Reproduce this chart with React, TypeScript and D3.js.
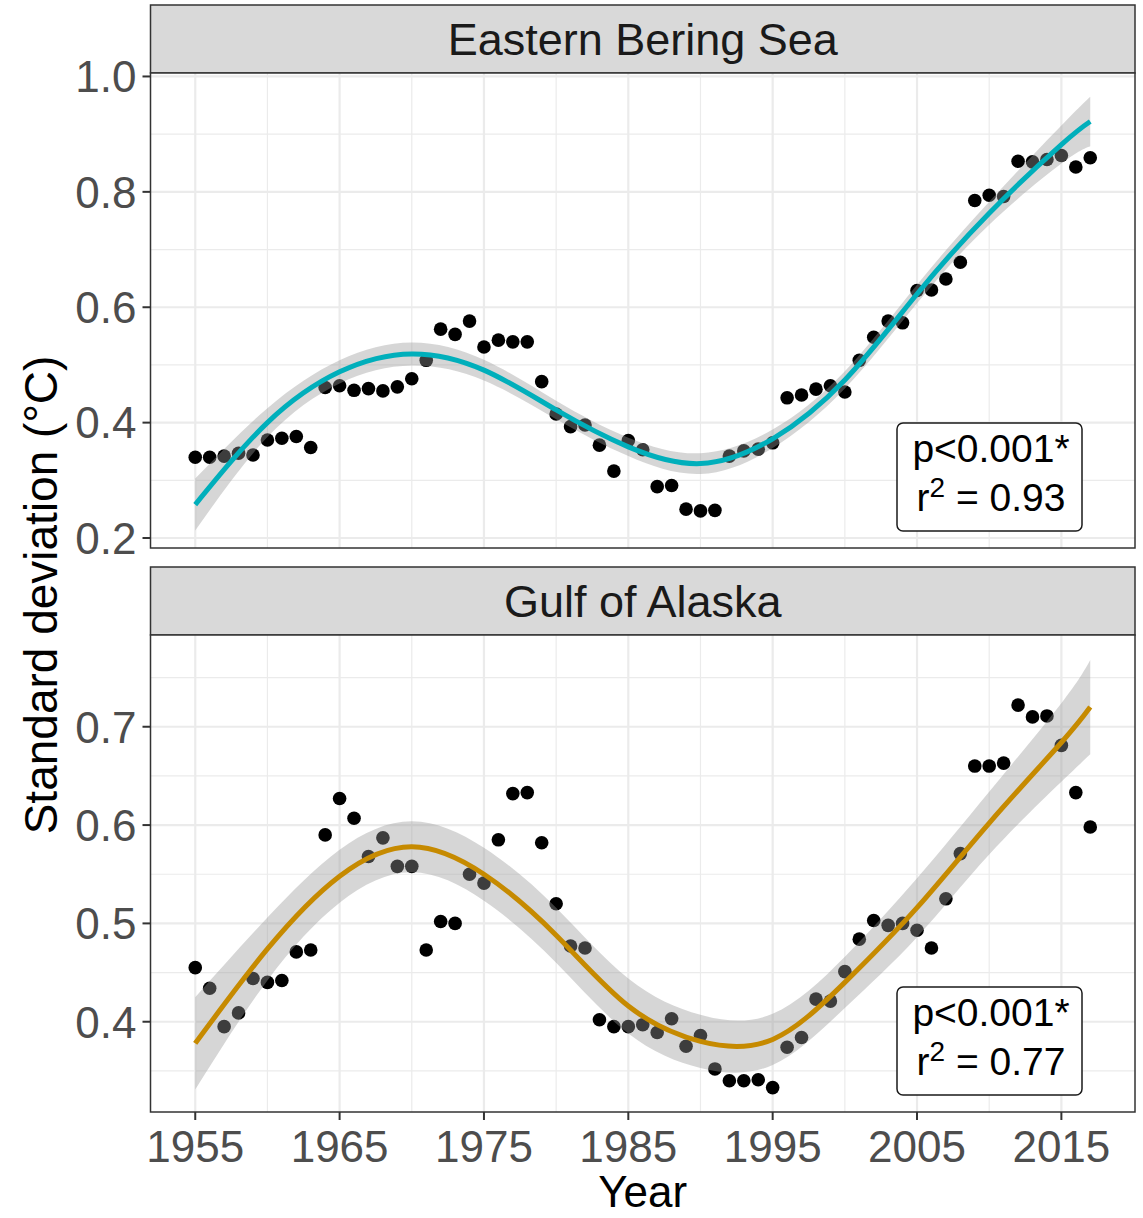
import React from "react";
import * as d3 from "d3";

// ---------- data ----------
const years = [
  1955, 1956, 1957, 1958, 1959, 1960, 1961, 1962, 1963, 1964, 1965, 1966, 1967, 1968, 1969,
  1970, 1971, 1972, 1973, 1974, 1975, 1976, 1977, 1978, 1979, 1980, 1981, 1982, 1983, 1984,
  1985, 1986, 1987, 1988, 1989, 1990, 1991, 1992, 1993, 1994, 1995, 1996, 1997, 1998, 1999,
  2000, 2001, 2002, 2003, 2004, 2005, 2006, 2007, 2008, 2009, 2010, 2011, 2012, 2013, 2014,
  2015, 2016, 2017,
];

const eberingValues = [
  0.340, 0.340, 0.342, 0.347, 0.344, 0.370, 0.373, 0.376, 0.357, 0.461, 0.464, 0.456, 0.459, 0.455, 0.462,
  0.476, 0.508, 0.562, 0.553, 0.576, 0.531, 0.543, 0.540, 0.540, 0.471, 0.415, 0.393, 0.396, 0.361, 0.316,
  0.369, 0.353, 0.289, 0.291, 0.250, 0.247, 0.248, 0.342, 0.351, 0.354, 0.365, 0.443, 0.448, 0.458, 0.464,
  0.453, 0.508, 0.548, 0.576, 0.573, 0.629, 0.630, 0.649, 0.678, 0.785, 0.794, 0.792, 0.853, 0.852, 0.856,
  0.863, 0.843, 0.859,
];

const alaskaValues = [
  0.455, 0.434, 0.395, 0.409, 0.444, 0.440, 0.442, 0.471, 0.473, 0.590, 0.627, 0.607, 0.568, 0.587, 0.558,
  0.558, 0.473, 0.502, 0.500, 0.550, 0.541, 0.585, 0.632, 0.633, 0.582, 0.520, 0.477, 0.475, 0.402, 0.395,
  0.395, 0.397, 0.389, 0.403, 0.375, 0.386, 0.352, 0.340, 0.340, 0.341, 0.333, 0.374, 0.384, 0.423, 0.421,
  0.451, 0.484, 0.503, 0.498, 0.500, 0.493, 0.475, 0.525, 0.571, 0.660, 0.660, 0.663, 0.722, 0.710, 0.711,
  0.681, 0.633, 0.598,
];

// fitted smooth and its confidence half-width
const fitYears = [1955, 1960, 1965, 1970, 1975, 1980, 1985, 1990, 1995, 2000, 2005, 2010, 2015, 2017];
const eberingFit = [0.258, 0.400, 0.488, 0.519, 0.491, 0.422, 0.358, 0.329, 0.372, 0.474, 0.623, 0.763, 0.882, 0.922];
const eberingSe = [0.045, 0.025, 0.02, 0.02, 0.018, 0.016, 0.016, 0.018, 0.016, 0.015, 0.016, 0.02, 0.033, 0.043];
const alaskaFit = [0.378, 0.474, 0.548, 0.578, 0.550, 0.488, 0.416, 0.380, 0.382, 0.440, 0.516, 0.602, 0.684, 0.720];
const alaskaSe = [0.047, 0.032, 0.027, 0.026, 0.027, 0.028, 0.028, 0.027, 0.026, 0.026, 0.03, 0.032, 0.04, 0.048];

const xTicks = [1955, 1965, 1975, 1985, 1995, 2005, 2015];
const xMinor = [1960, 1970, 1980, 1990, 2000, 2010];
const eberingTicks = [0.2, 0.4, 0.6, 0.8, 1.0];
const eberingMinor = [0.3, 0.5, 0.7, 0.9];
const alaskaTicks = [0.4, 0.5, 0.6, 0.7];
const alaskaMinor = [0.35, 0.45, 0.55, 0.65, 0.75];

const panels = [
  {
    title: "Eastern Bering Sea",
    values: eberingValues,
    fit: eberingFit,
    se: eberingSe,
    color: "#00AFBB",
    yDomain: [0.1827, 1.006],
    ticks: eberingTicks,
    minor: eberingMinor,
    p: "p<0.001*",
    r2: "0.93",
    stripTop: 5,
    top: 73,
    bottom: 548,
  },
  {
    title: "Gulf of Alaska",
    values: alaskaValues,
    fit: alaskaFit,
    se: alaskaSe,
    color: "#C68A00",
    yDomain: [0.3082, 0.7933],
    ticks: alaskaTicks,
    minor: alaskaMinor,
    p: "p<0.001*",
    r2: "0.77",
    stripTop: 567,
    top: 635,
    bottom: 1112,
  },
];

const W = 1143;
const H = 1218;
const LEFT = 150.5;
const RIGHT = 1135;
const FONT = "'Liberation Sans', Arial, Helvetica, sans-serif";

export default function App() {
  const x = d3.scaleLinear().domain([1951.9, 2020.1]).range([LEFT, RIGHT]);

  return (
    <svg
      width={W}
      height={H}
      viewBox={`0 0 ${W} ${H}`}
      style={{ position: "absolute", left: 0, top: 0, background: "#fff" }}
      fontFamily={FONT}
    >
      <rect x={0} y={0} width={W} height={H} fill="#fff" />
      {panels.map((p, pi) => {
        const y = d3.scaleLinear().domain(p.yDomain).range([p.bottom, p.top]);
        const fitPts = fitYears.map((yr, i) => ({ yr, v: p.fit[i], se: p.se[i] }));
        const line = d3
          .line<any>()
          .x((d) => x(d.yr))
          .y((d) => y(d.v))
          .curve(d3.curveNatural);
        const area = d3
          .area<any>()
          .x((d) => x(d.yr))
          .y0((d) => y(d.v - d.se))
          .y1((d) => y(d.v + d.se))
          .curve(d3.curveNatural);
        const clipId = `clip${pi}`;
        const boxTop = pi === 0 ? 423 : 987;
        return (
          <g key={pi}>
            <defs>
              <clipPath id={clipId}>
                <rect x={LEFT} y={p.top} width={RIGHT - LEFT} height={p.bottom - p.top} />
              </clipPath>
            </defs>
            {/* strip */}
            <rect
              x={LEFT}
              y={p.stripTop}
              width={RIGHT - LEFT}
              height={p.top - p.stripTop}
              fill="#d9d9d9"
              stroke="#333"
              strokeWidth={1.5}
            />
            <text
              x={(LEFT + RIGHT) / 2}
              y={(p.stripTop + p.top) / 2}
              dy="0.36em"
              textAnchor="middle"
              fontSize={45}
              fill="#1a1a1a"
            >
              {p.title}
            </text>
            {/* panel background + grid */}
            <rect x={LEFT} y={p.top} width={RIGHT - LEFT} height={p.bottom - p.top} fill="#fff" />
            <g clipPath={`url(#${clipId})`}>
              {p.minor.map((t) => (
                <line key={"ym" + t} x1={LEFT} x2={RIGHT} y1={y(t)} y2={y(t)} stroke="#ebebeb" strokeWidth={1.2} />
              ))}
              {xMinor.map((t) => (
                <line key={"xm" + t} x1={x(t)} x2={x(t)} y1={p.top} y2={p.bottom} stroke="#ebebeb" strokeWidth={1.2} />
              ))}
              {p.ticks.map((t) => (
                <line key={"yM" + t} x1={LEFT} x2={RIGHT} y1={y(t)} y2={y(t)} stroke="#ebebeb" strokeWidth={2.2} />
              ))}
              {xTicks.map((t) => (
                <line key={"xM" + t} x1={x(t)} x2={x(t)} y1={p.top} y2={p.bottom} stroke="#ebebeb" strokeWidth={2.2} />
              ))}
              {/* points */}
              {years.map((yr, i) => (
                <circle key={yr} cx={x(yr)} cy={y(p.values[i])} r={6.8} fill="#000" />
              ))}
              {/* smooth */}
              <path d={area(fitPts) || ""} fill="#999999" fillOpacity={0.4} />
              <path d={line(fitPts) || ""} fill="none" stroke={p.color} strokeWidth={5} />
            </g>
            {/* panel border */}
            <rect
              x={LEFT}
              y={p.top}
              width={RIGHT - LEFT}
              height={p.bottom - p.top}
              fill="none"
              stroke="#333"
              strokeWidth={1.5}
            />
            {/* y axis */}
            {p.ticks.map((t) => (
              <g key={"yt" + t}>
                <line x1={LEFT - 8} x2={LEFT} y1={y(t)} y2={y(t)} stroke="#333" strokeWidth={2} />
                <text x={LEFT - 14} y={y(t)} dy="0.36em" textAnchor="end" fontSize={44} fill="#4d4d4d">
                  {t.toFixed(1)}
                </text>
              </g>
            ))}
            {/* annotation box */}
            <rect x={897} y={boxTop} width={185} height={108} rx={6} fill="#fff" stroke="#1a1a1a" strokeWidth={1.5} />
            <text x={991} y={boxTop + 39} textAnchor="middle" fontSize={39} fill="#000">
              {p.p}
            </text>
            <text x={991} y={boxTop + 87.5} textAnchor="middle" fontSize={39} fill="#000">
              <tspan>r</tspan>
              <tspan fontSize={28} dy={-14}>2</tspan>
              <tspan dy={14}>{" = " + p.r2}</tspan>
            </text>
          </g>
        );
      })}
      {/* x axis (bottom panel only) */}
      {xTicks.map((t) => (
        <g key={"xt" + t}>
          <line x1={x(t)} x2={x(t)} y1={1112} y2={1120} stroke="#333" strokeWidth={2} />
          <text x={x(t)} y={1162} textAnchor="middle" fontSize={44} fill="#4d4d4d">
            {t}
          </text>
        </g>
      ))}
      <text x={(LEFT + RIGHT) / 2} y={1207} textAnchor="middle" fontSize={44} fill="#000">
        Year
      </text>
      <text
        transform={`translate(40, 595) rotate(-90)`}
        textAnchor="middle"
        dy="0.36em"
        fontSize={46}
        fill="#000"
      >
        Standard deviation (°C)
      </text>
    </svg>
  );
}
